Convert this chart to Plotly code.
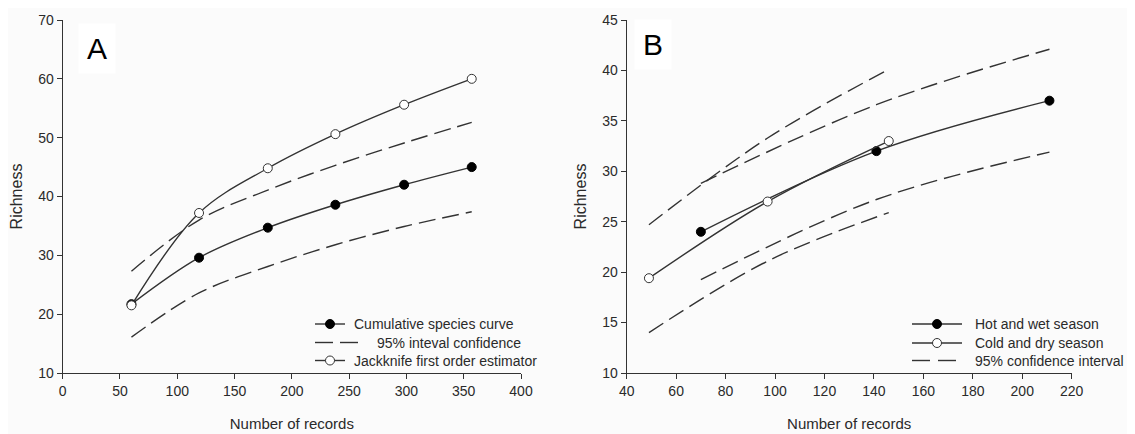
import plotly.graph_objects as go

# ---------------- Data: panel A ----------------
a_records = [60, 119, 179, 238, 298, 357]
a_cumulative = [21.7, 29.6, 34.7, 38.6, 42.0, 45.0]
a_jackknife = [21.5, 37.2, 44.8, 50.6, 55.6, 60.0]
a_ci_upper = [27.3, 36.0, 41.1, 45.3, 49.1, 52.6]
a_ci_lower = [16.1, 23.6, 28.1, 31.8, 34.9, 37.4]

# ---------------- Data: panel B ----------------
b_hot_records = [70, 141, 211]
b_hot = [24.0, 32.0, 37.0]
b_hot_ci_upper = [28.8, 36.6, 42.1]
b_hot_ci_lower = [19.25, 27.2, 31.9]

b_cold_records = [49, 97, 146]
b_cold = [19.4, 27.0, 33.0]
b_cold_ci_upper = [24.7, 33.3, 40.1]
b_cold_ci_lower = [14.0, 21.1, 25.9]

a_xticks = [0, 50, 100, 150, 200, 250, 300, 350, 400]
a_yticks = [10, 20, 30, 40, 50, 60, 70]
b_xticks = [40, 60, 80, 100, 120, 140, 160, 180, 200, 220]
b_yticks = [10, 15, 20, 25, 30, 35, 40, 45]

a_legend_labels = ["Cumulative species curve", "95% inteval confidence",
                   "Jackknife first order estimator"]
b_legend_labels = ["Hot and wet season", "Cold and dry season",
                   "95% confidence interval"]

LINE = "#333333"
TXT = "#2a2a2a"
DASH = "17px,7px"
FONT = "Liberation Sans, Arial, sans-serif"
LW = 1.4

# page body has an 8px default margin
OFF = 8
W, H = 1135 - OFF, 434 - OFF


def px(v):
    return (v - OFF) / W


def py(v):
    return (H - (v - OFF)) / H


fig = go.Figure()

solid = dict(color=LINE, width=LW, shape="spline", smoothing=1)
dashed = dict(color=LINE, width=LW, dash=DASH, shape="spline", smoothing=1)
filled = dict(symbol="circle", size=9, color="black", line=dict(color="black", width=1))
hollow = dict(symbol="circle", size=9, color="white", line=dict(color=LINE, width=1))

# Panel A
fig.add_trace(go.Scatter(x=a_records, y=a_ci_upper, mode="lines", line=dashed,
                         xaxis="x", yaxis="y", name=a_legend_labels[1]))
fig.add_trace(go.Scatter(x=a_records, y=a_ci_lower, mode="lines", line=dashed,
                         xaxis="x", yaxis="y", name=a_legend_labels[1]))
fig.add_trace(go.Scatter(x=a_records, y=a_cumulative, mode="lines+markers", line=solid,
                         marker=filled, xaxis="x", yaxis="y", name=a_legend_labels[0]))
fig.add_trace(go.Scatter(x=a_records, y=a_jackknife, mode="lines+markers", line=solid,
                         marker=hollow, xaxis="x", yaxis="y", name=a_legend_labels[2]))

# Panel B
for xs, ys in [(b_hot_records, b_hot_ci_upper), (b_hot_records, b_hot_ci_lower),
               (b_cold_records, b_cold_ci_upper), (b_cold_records, b_cold_ci_lower)]:
    fig.add_trace(go.Scatter(x=xs, y=ys, mode="lines", line=dashed,
                             xaxis="x2", yaxis="y2", name=b_legend_labels[2]))
fig.add_trace(go.Scatter(x=b_hot_records, y=b_hot, mode="lines+markers", line=solid,
                         marker=filled, xaxis="x2", yaxis="y2", name=b_legend_labels[0]))
fig.add_trace(go.Scatter(x=b_cold_records, y=b_cold, mode="lines+markers", line=solid,
                         marker=hollow, xaxis="x2", yaxis="y2", name=b_legend_labels[1]))

axis_common = dict(
    showline=True, linecolor=LINE, linewidth=1.3, ticks="outside", ticklen=5,
    tickwidth=1.2, tickcolor=LINE, showgrid=False, zeroline=False, mirror=False,
    tickfont=dict(size=14, color=TXT, family=FONT), automargin=False,
)

# ---- hand-built legends (paper coordinates) ----
shapes = []
annotations = []


def seg(x0, x1, y):
    shapes.append(dict(type="line", xref="paper", yref="paper",
                       x0=px(x0), x1=px(x1), y0=py(y), y1=py(y),
                       line=dict(color=LINE, width=LW)))


def dot(xc, y, fillc, r=4.5):
    shapes.append(dict(type="circle", xref="paper", yref="paper",
                       x0=px(xc - r), x1=px(xc + r), y0=py(y + r), y1=py(y - r),
                       fillcolor=fillc, line=dict(color=LINE if fillc == "white" else "black", width=1)))


def label(text, x, y):
    annotations.append(dict(text=text, x=px(x), y=py(y), xref="paper", yref="paper",
                            xanchor="left", yanchor="middle", showarrow=False,
                            font=dict(size=14, color=TXT, family=FONT)))


# Legend A
rows_a = [324, 342.5, 360.5]
seg(315, 345, rows_a[0]); dot(330, rows_a[0], "black"); label(a_legend_labels[0], 352, rows_a[0])
seg(315, 333, rows_a[1]); seg(340, 358, rows_a[1]); label(a_legend_labels[1], 375, rows_a[1])
seg(315, 345, rows_a[2]); dot(330, rows_a[2], "white"); label(a_legend_labels[2], 352, rows_a[2])

# Legend B
rows_b = [324, 343, 360.5]
seg(912, 962, rows_b[0]); dot(937, rows_b[0], "black"); label(b_legend_labels[0], 973, rows_b[0])
seg(912, 962, rows_b[1]); dot(937, rows_b[1], "white"); label(b_legend_labels[1], 973, rows_b[1])
seg(912, 930, rows_b[2]); seg(938, 956, rows_b[2]); label(b_legend_labels[2], 973, rows_b[2])

# Panel letters
for letter, lx, ly in [("A", 97, 48), ("B", 653, 44)]:
    annotations.append(dict(text=letter, x=px(lx), y=py(ly), xref="paper", yref="paper",
                            xanchor="center", yanchor="middle", showarrow=False,
                            font=dict(size=30, color="black", family=FONT),
                            bgcolor="white", borderpad=8))

fig.update_layout(
    width=W, height=H,
    margin=dict(l=0, r=0, t=0, b=0),
    paper_bgcolor="#fbfbfb", plot_bgcolor="#fbfbfb",
    font=dict(family=FONT, color=TXT, size=14),
    showlegend=False,
    xaxis=dict(axis_common, domain=[px(62.7), px(521)], range=[0, 400],
               tickvals=a_xticks, anchor="y",
               title=dict(text="Number of records", standoff=20, font=dict(size=15, color=TXT))),
    yaxis=dict(axis_common, domain=[py(373), py(20)], range=[10, 70],
               tickvals=a_yticks, anchor="x",
               title=dict(text="Richness", standoff=11, font=dict(size=16, color=TXT))),
    xaxis2=dict(axis_common, domain=[px(626.7), px(1071.7)], range=[40, 220],
                tickvals=b_xticks, anchor="y2",
                title=dict(text="Number of records", standoff=20, font=dict(size=15, color=TXT))),
    yaxis2=dict(axis_common, domain=[py(373), py(20)], range=[10, 45],
                tickvals=b_yticks, anchor="x2",
                title=dict(text="Richness", standoff=11, font=dict(size=16, color=TXT))),
    shapes=shapes,
    annotations=annotations,
)

fig.write_html("out.html")
